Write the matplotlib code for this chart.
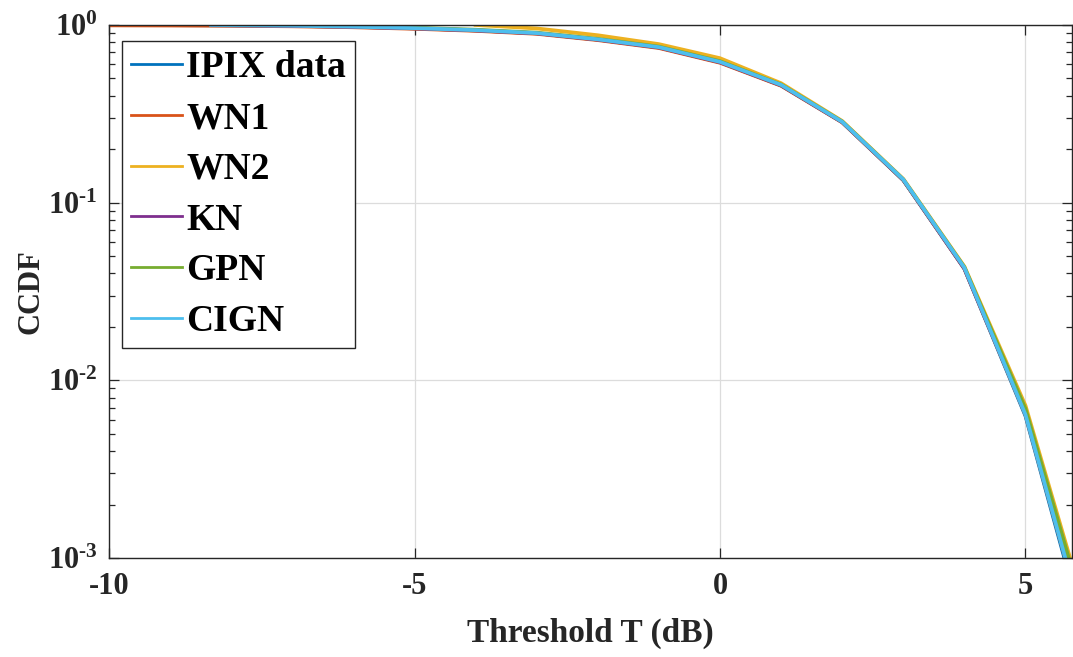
import numpy as np
import matplotlib
matplotlib.use("Agg")
import matplotlib.pyplot as plt
from matplotlib.ticker import FixedLocator, FuncFormatter, LogLocator, NullFormatter

plt.rcParams['font.family'] = ['Liberation Serif', 'DejaVu Serif']
plt.rcParams['font.weight'] = 'bold'
plt.rcParams['axes.unicode_minus'] = False
plt.rcParams['mathtext.fontset'] = 'custom'
plt.rcParams['mathtext.rm'] = 'Liberation Serif:bold'
plt.rcParams['mathtext.it'] = 'Liberation Serif:bold'
plt.rcParams['mathtext.bf'] = 'Liberation Serif:bold'

# threshold grid (dB) and CCDF values
ipix_x = [-10, -9, -8, -7, -6, -5, -4, -3, -2, -1, 0, 1, 2, 3, 4, 5, 6]
ipix_y = [1.0, 0.998, 0.995, 0.988, 0.976, 0.957, 0.932, 0.897, 0.827, 0.747, 0.617, 0.457, 0.284, 0.134, 0.0425, 0.0063, 0.00035]

wn1_x = [-10, -9, -8, -7, -6, -5, -4, -3, -2, -1, 0, 1, 2, 3, 4, 5, 6]
wn1_y = [0.995, 0.993, 0.99, 0.983, 0.971, 0.952, 0.927, 0.892, 0.822, 0.742, 0.613, 0.455, 0.283, 0.134, 0.0425, 0.0064, 0.00037]

wn2_x = [-4, -3, -2, -1, 0, 1, 2, 3, 4, 5, 6]
wn2_y = [1.0, 0.956, 0.875, 0.78, 0.65, 0.47, 0.288, 0.136, 0.0437, 0.0072, 0.00048]

kn_x = [-8.3, -8, -7, -6, -5, -4, -3, -2, -1, 0, 1, 2, 3, 4, 5, 6]
kn_y = [0.998, 0.996, 0.989, 0.977, 0.958, 0.933, 0.898, 0.828, 0.748, 0.618, 0.458, 0.284, 0.134, 0.0426, 0.0065, 0.0004]

gpn_x = [-7, -6, -5, -4, -3, -2, -1, 0, 1, 2, 3, 4, 5, 6]
gpn_y = [1.0, 0.985, 0.965, 0.94, 0.905, 0.835, 0.755, 0.625, 0.462, 0.286, 0.135, 0.0433, 0.0069, 0.00045]

cign_x = [-8.33, -8, -7, -6, -5, -4, -3, -2, -1, 0, 1, 2, 3, 4, 5, 6]
cign_y = [1.0, 0.997, 0.99, 0.978, 0.96, 0.935, 0.90, 0.83, 0.75, 0.62, 0.46, 0.285, 0.135, 0.043, 0.0064, 0.00037]

labels = ['IPIX data', 'WN1', 'WN2', 'KN', 'GPN', 'CIGN']
colors = ['#0072BD', '#D95319', '#EDB120', '#7E2F8E', '#77AC30', '#4DBEEE']
series = [(ipix_x, ipix_y), (wn1_x, wn1_y), (wn2_x, wn2_y),
          (kn_x, kn_y), (gpn_x, gpn_y), (cign_x, cign_y)]

fig = plt.figure(figsize=(10.73, 6.57), dpi=100)
ax = fig.add_axes([0.1016, 0.1507, 0.8974, 0.8113])

for (x, y), lab, c in zip(series, labels, colors):
    ax.semilogy(x, y, color=c, linewidth=2.7, label=lab)

ax.set_xlim(-10, 5.76)
ax.set_ylim(1e-3, 1)

ax.xaxis.set_major_locator(FixedLocator([-10, -5, 0, 5]))
ax.yaxis.set_major_locator(FixedLocator([1e-3, 1e-2, 1e-1, 1]))
ax.yaxis.set_minor_locator(LogLocator(base=10, subs=np.arange(2, 10)))
ax.yaxis.set_minor_formatter(NullFormatter())
ax.yaxis.set_major_formatter(
    FuncFormatter(lambda v, p: r'$10^{\text{%d}}$' % round(np.log10(v))))

txt = '#262626'
ax.tick_params(axis='both', which='both', direction='in', top=True, right=True,
               colors=txt, labelsize=22, width=0.9)
ax.tick_params(which='major', length=7)
ax.tick_params(axis='x', which='major', pad=10)
ax.tick_params(axis='y', which='major', pad=8)
ax.tick_params(which='minor', length=4)
for lab in ax.get_xticklabels() + ax.get_yticklabels():
    lab.set_fontweight('bold')

ax.grid(True, which='major', color='#DCDCDC', linewidth=0.9)
ax.set_axisbelow(True)
for s in ax.spines.values():
    s.set_color(txt)
    s.set_linewidth(1.0)

ax.set_xlabel('Threshold T (dB)', fontsize=24, fontweight='bold', color=txt, labelpad=12)
ax.set_ylabel('CCDF', fontsize=22, fontweight='bold', color=txt, labelpad=2)

leg = ax.legend(loc='upper left', bbox_to_anchor=(0.0135, 0.97), fontsize=27,
                handlelength=1.36, handletextpad=0.1, labelspacing=0.42,
                borderpad=0.25, borderaxespad=0, fancybox=False, framealpha=1)
leg.get_frame().set_edgecolor('#262626')
leg.get_frame().set_linewidth(1.0)
for h in leg.get_lines():
    h.set_linewidth(2.0)
for t in leg.get_texts():
    t.set_fontweight('bold')

fig.savefig('out.png', dpi=100)
